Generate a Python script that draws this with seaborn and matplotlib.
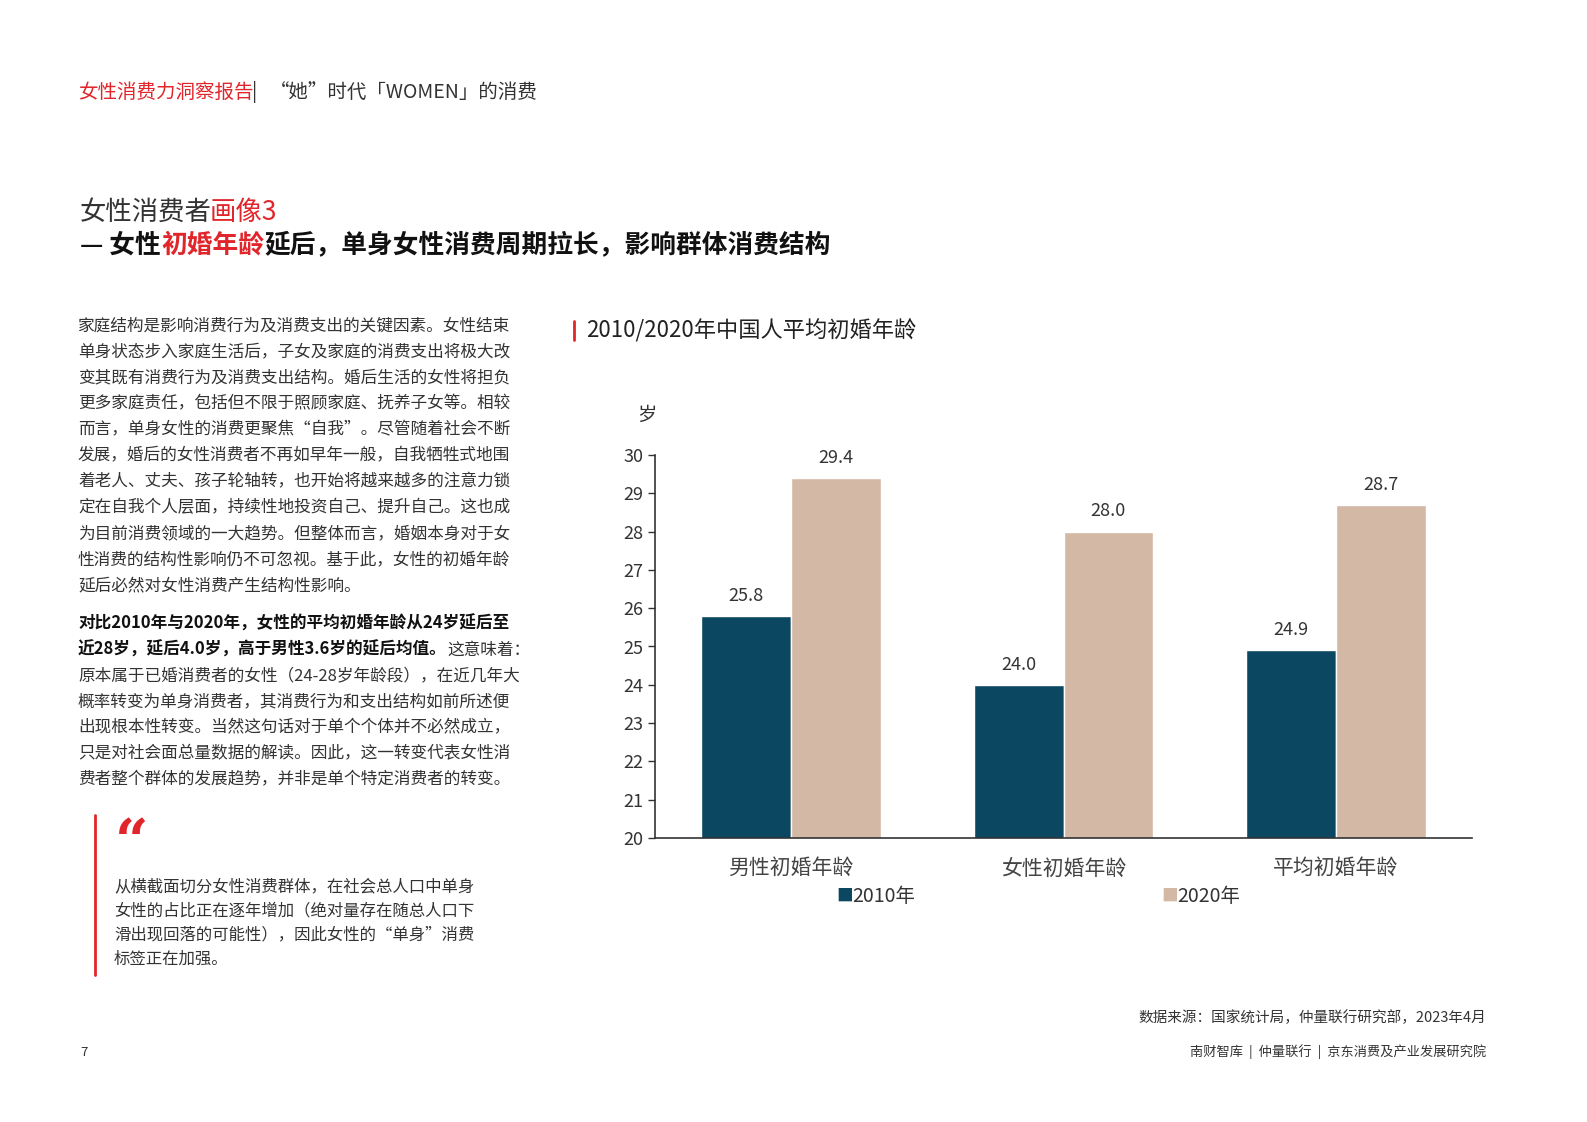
import matplotlib
matplotlib.use("Agg")
import matplotlib.pyplot as plt
import seaborn as sns
import pandas as pd

categories = ["男性初婚年龄", "女性初婚年龄", "平均初婚年龄"]
years = ["2010年", "2020年"]
values_2010 = [25.8, 24.0, 24.9]
values_2020 = [29.4, 28.0, 28.7]
yticks = list(range(20, 31))

sns.set_theme(style="white")
FAM = ["Noto Sans CJK SC", "DejaVu Sans"]
plt.rcParams["font.family"] = FAM

C1, C2 = "#0b4760", "#d3b8a5"
RED = "#e0262b"
TXT = "#333333"

df = pd.DataFrame({
    "cat": categories * 2,
    "year": [years[0]] * 3 + [years[1]] * 3,
    "val": values_2010 + values_2020,
})

fig = plt.figure(figsize=(15.87, 11.22), dpi=100)
W, H = 1587, 1122
def fx(x): return x / W
def fy(y): return 1 - y / H

ax = fig.add_axes([fx(655), fy(838), fx(1472) - fx(655), fy(455) - fy(838)])
sns.barplot(data=df, x="cat", y="val", hue="year", palette=[C1, C2],
            width=0.66, ax=ax, legend=False, saturation=1)
ax.set_ylim(20, 30)
ax.set_xlim(-0.5, 2.5)
ax.set_yticks(yticks)
ax.set_ylabel("")
ax.set_xlabel("")
ax.tick_params(axis="y", labelsize=13, colors=TXT, length=5, left=True, width=1)
ax.tick_params(axis="x", labelsize=15, colors="#444444", length=0, pad=14)
for s in ["top", "right"]:
    ax.spines[s].set_visible(False)
for s in ["left", "bottom"]:
    ax.spines[s].set_color("#333333")
    ax.spines[s].set_linewidth(1.2)
for cont in ax.containers:
    ax.bar_label(cont, fmt="%.1f", padding=8, fontsize=13, color=TXT)

fig.text(fx(637), fy(415), "岁", fontsize=14, color=TXT, va="center")
fig.text(fx(836), fy(896), "■", fontsize=12, color=C1, va="center")
fig.text(fx(852), fy(896), "2010年", fontsize=14, color=TXT, va="center")
fig.text(fx(1161), fy(896), "■", fontsize=12, color=C2, va="center")
fig.text(fx(1177), fy(896), "2020年", fontsize=14, color=TXT, va="center")

# Header
fig.text(fx(78), fy(92), "女性消费力洞察报告", fontsize=14, color=RED, va="center")
fig.text(fx(252), fy(92), "|", fontsize=14, color=TXT, va="center")
fig.text(fx(270), fy(92), "“她”时代「WOMEN」的消费", fontsize=14, color=TXT, va="center")

fig.text(fx(80), fy(212), "女性消费者", fontsize=19, color=TXT, va="center")
fig.text(fx(210), fy(212), "画像3", fontsize=19, color=RED, va="center")
fig.text(fx(80), fy(245), "— 女性", fontsize=18.5, color="#111111", weight="bold", va="center")
fig.text(fx(161), fy(245), "初婚年龄", fontsize=18.5, color=RED, weight="bold", va="center")
fig.text(fx(264), fy(245), "延后，单身女性消费周期拉长，影响群体消费结构", fontsize=18.5,
         color="#111111", weight="bold", va="center")

# Chart title
fig.add_artist(plt.Line2D([fx(574), fx(574)], [fy(321), fy(340)], color=RED, lw=2))
fig.text(fx(586), fy(331), "2010/2020年中国人平均初婚年龄", fontsize=16, color="#222222", va="center")

FS = 12
para1 = ["家庭结构是影响消费行为及消费支出的关键因素。女性结束",
         "单身状态步入家庭生活后，子女及家庭的消费支出将极大改",
         "变其既有消费行为及消费支出结构。婚后生活的女性将担负",
         "更多家庭责任，包括但不限于照顾家庭、抚养子女等。相较",
         "而言，单身女性的消费更聚焦“自我”。尽管随着社会不断",
         "发展，婚后的女性消费者不再如早年一般，自我牺牲式地围",
         "着老人、丈夫、孩子轮轴转，也开始将越来越多的注意力锁",
         "定在自我个人层面，持续性地投资自己、提升自己。这也成",
         "为目前消费领域的一大趋势。但整体而言，婚姻本身对于女",
         "性消费的结构性影响仍不可忽视。基于此，女性的初婚年龄",
         "延后必然对女性消费产生结构性影响。"]
for i, t in enumerate(para1):
    fig.text(fx(78), fy(326 + i * 26), t, fontsize=FS, color=TXT, va="center")

fig.text(fx(78), fy(624), "对比2010年与2020年，女性的平均初婚年龄从24岁延后至",
         fontsize=FS, color="#111111", weight="bold", va="center")
fig.text(fx(78), fy(650), "近28岁，延后4.0岁，高于男性3.6岁的延后均值。",
         fontsize=FS, color="#111111", weight="bold", va="center")
fig.text(fx(447), fy(650), "这意味着：", fontsize=FS, color=TXT, va="center")
para2 = ["原本属于已婚消费者的女性（24-28岁年龄段），在近几年大",
         "概率转变为单身消费者，其消费行为和支出结构如前所述便",
         "出现根本性转变。当然这句话对于单个个体并不必然成立，",
         "只是对社会面总量数据的解读。因此，这一转变代表女性消",
         "费者整个群体的发展趋势，并非是单个特定消费者的转变。"]
for i, t in enumerate(para2):
    fig.text(fx(78), fy(676 + i * 26), t, fontsize=FS, color=TXT, va="center")

# Quote
fig.add_artist(plt.Line2D([fx(95), fx(95)], [fy(815), fy(975)], color=RED, lw=2))
fig.text(fx(115), fy(845), "“", fontsize=42, color=RED, weight="bold", va="center",
         family=["DejaVu Serif"])
quote = ["从横截面切分女性消费群体，在社会总人口中单身",
         "女性的占比正在逐年增加（绝对量存在随总人口下",
         "滑出现回落的可能性），因此女性的“单身”消费",
         "标签正在加强。"]
for i, t in enumerate(quote):
    fig.text(fx(114), fy(887 + i * 24), t, fontsize=11.8, color=TXT, va="center")

# Footer
fig.text(fx(1486), fy(1018), "数据来源：国家统计局，仲量联行研究部，2023年4月", fontsize=10.5,
         color=TXT, ha="right", va="center")
fig.text(fx(1486), fy(1052), "南财智库  |  仲量联行  |  京东消费及产业发展研究院", fontsize=9.5,
         color=TXT, ha="right", va="center")
fig.text(fx(80), fy(1052), "7", fontsize=9.5, color=TXT, va="center")

fig.savefig("out.png", dpi=100)
